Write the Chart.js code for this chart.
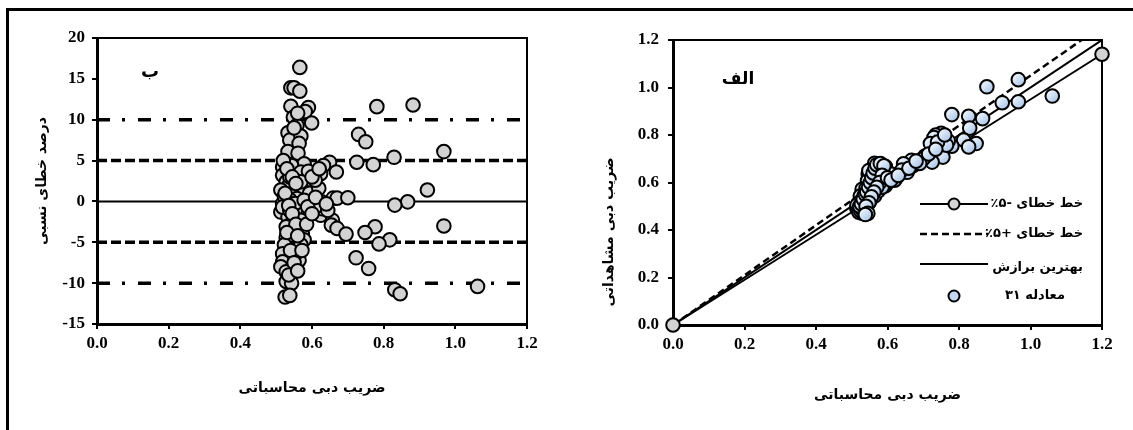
<!DOCTYPE html>
<html><head><meta charset="utf-8">
<script src="https://cdn.jsdelivr.net/npm/chart.js@4.4.0/dist/chart.umd.min.js"></script>
<style>
html,body{margin:0;padding:0;background:#fff;}
#wrap{position:relative;width:1133px;height:430px;overflow:hidden;background:#fff;}
#frame{position:absolute;left:6px;top:8px;width:1140px;height:440px;border-top:3px solid #000;border-left:3px solid #000;}
canvas{position:absolute;top:0;}
#c1{left:0;} #c2{left:566px;}
</style></head><body>
<div id="wrap"><div id="frame"></div>
<canvas id="c1" width="566" height="430"></canvas>
<canvas id="c2" width="567" height="430"></canvas></div>
<script>
// ---------- data: left chart (ب) ----------
const calcLeft = [0.566,0.541,0.550,0.566,0.541,0.590,0.581,0.548,0.558,0.599,
0.533,0.538,0.569,0.564,0.533,0.561,0.578,0.543,0.569,0.590,
0.518,0.518,0.528,0.533,0.558,0.581,0.578,0.593,0.619,0.627,
0.558,0.518,0.513,0.558,0.588,0.624,0.533,0.629,0.649,0.632,
0.668,0.624,0.659,0.670,0.700,0.657,0.654,0.670,0.695,0.538,
0.548,0.528,0.543,0.573,0.578,0.558,0.553,0.523,0.518,0.543,
0.564,0.518,0.548,0.513,0.528,0.528,0.543,0.525,0.538,0.725,
0.730,0.750,0.781,0.882,0.771,0.829,0.968,0.922,0.867,0.831,
0.776,0.748,0.817,0.787,0.723,0.758,0.831,0.846,1.062,0.968,
0.513,0.523,0.518,0.538,0.538,0.548,0.569,0.528,0.569,0.553,
0.538,0.553,0.569,0.609,0.599,0.609,0.644,0.553,0.578,0.588,
0.520,0.530,0.545,0.555,0.525,0.535,0.545,0.555,0.530,0.560,
0.540,0.550,0.535,0.560,0.572,0.600,0.610,0.585,0.600,0.640,
0.620,0.550,0.560];
const errLeft = [16.4,13.9,13.9,13.5,11.65,11.5,11.0,10.3,9.3,9.6,
8.4,7.5,8.0,7.1,6.1,5.9,4.6,4.4,3.6,3.7,
4.2,3.2,2.4,1.8,1.5,2.0,1.2,1.0,1.6,-0.05,
0.35,-0.25,-1.3,-1.15,-1.7,-1.7,-1.9,-0.9,4.8,4.4,
3.6,3.4,0.4,0.4,0.45,-2.3,-2.9,-3.3,-4.0,-2.9,
-3.5,-4.4,-4.7,-3.9,-4.7,-5.5,-5.8,-5.3,-6.4,-7.0,
-7.2,-7.4,-8.0,-8.0,-8.6,-9.8,-10.0,-11.7,-11.5,4.8,
8.2,7.3,11.6,11.8,4.5,5.4,6.1,1.4,-0.05,-0.45,
-3.1,-3.8,-4.7,-5.2,-6.9,-8.2,-10.8,-11.3,-10.4,-3.0,
1.4,0.6,-0.7,0.2,-1.1,-2.3,-2.3,-3.1,-5.3,-6.5,
3.0,2.6,2.4,2.6,-0.25,-0.7,-1.1,-0.25,0.15,-0.65,
5.0,4.0,3.0,2.2,1.0,-0.5,-1.5,-2.8,-3.8,-4.2,
-6.0,-7.5,-9.0,-8.5,-6.0,3.0,0.5,-2.8,-1.5,-0.3,
4.0,9.0,10.8];
const refLineX = [0, 1.2];
const zeroLineY = [0, 0];
const plus5Y = [5, 5];
const minus5Y = [-5, -5];
const plus10Y = [10, 10];
const minus10Y = [-10, -10];

// ---------- data: right chart (الف) ----------
const calcRight = [0.966,0.878,1.061,0.921,0.966,0.866,0.827,0.780,0.830,0.813,
0.848,0.827,0.780,0.755,0.750,0.735,0.730,0.720,0.725,0.705,
0.670,0.667,0.645,0.655,0.625,0.576,0.564,0.594,0.584,0.546,
0.569,0.594,0.544,0.559,0.529,0.554,0.524,0.544,0.564,0.519,
0.534,0.519,0.529,0.514,0.574,0.610,0.770,0.765,0.700,0.640,
0.620,0.600,0.585,0.540,0.550,0.535,0.525,0.515,0.530,0.560,
0.575,0.548,0.690,0.740,0.760,
0.520,0.525,0.530,0.535,0.522,0.527,0.532,0.538,0.542,0.547,
0.552,0.556,0.560,0.565,0.570,0.580,0.590,0.585,0.578,0.570,
0.562,0.555,0.548,0.540,0.545,0.538,0.600,0.610,0.630,0.660,
0.680,0.715,0.735];
const obsRight = [1.033,1.003,0.964,0.936,0.940,0.869,0.879,0.886,0.829,0.779,
0.764,0.750,0.753,0.707,0.807,0.800,0.789,0.764,0.686,0.711,
0.671,0.693,0.679,0.643,0.621,0.671,0.681,0.667,0.650,0.636,
0.614,0.586,0.607,0.579,0.571,0.557,0.543,0.529,0.543,0.514,
0.500,0.486,0.471,0.493,0.564,0.636,0.775,0.757,0.700,0.652,
0.610,0.600,0.580,0.575,0.520,0.545,0.520,0.505,0.490,0.600,
0.620,0.650,0.680,0.770,0.800,
0.475,0.480,0.485,0.490,0.500,0.510,0.530,0.550,0.560,0.580,
0.600,0.620,0.640,0.660,0.675,0.680,0.670,0.630,0.600,0.580,
0.560,0.540,0.515,0.500,0.470,0.465,0.620,0.610,0.630,0.660,
0.690,0.720,0.740];
const fitX = [0, 1.2],   fitY = [0, 1.2];      // بهترین برازش
const plusX = [0, 1.143], plusY = [0, 1.2];    // خط خطای +۵٪
const minusX = [0, 1.2], minusY = [0, 1.14];   // خط خطای -۵٪

const xTickLabels = ['0.0','0.2','0.4','0.6','0.8','1.0','1.2'];
const yTickLabelsRight = ['0.0','0.2','0.4','0.6','0.8','1.0','1.2'];

// ---------- helpers ----------
const serif = "'Liberation Serif','Times New Roman',serif";
const faFam = "'DejaVu Sans',sans-serif";
const tickFont = {family: serif, size: 17, weight: 'bold'};
const pts = (xs, ys) => xs.map((x, i) => ({x: x, y: ys[i]}));

const boxPlugin = {id: 'box', beforeDatasetsDraw(chart) {
  const {ctx, chartArea: a} = chart;
  ctx.save(); ctx.strokeStyle = '#000'; ctx.lineWidth = 2;
  ctx.beginPath(); ctx.moveTo(a.left, a.top); ctx.lineTo(a.right, a.top); ctx.lineTo(a.right, a.bottom); ctx.stroke();
  ctx.restore();
}};

function faText(ctx, txt, x, y, size, align) {
  ctx.save();
  ctx.font = 'bold ' + size + 'px ' + faFam;
  ctx.fillStyle = '#000';
  ctx.direction = 'rtl';
  ctx.textAlign = align || 'center';
  ctx.textBaseline = 'middle';
  ctx.fillText(txt, x, y);
  ctx.restore();
}

function xScale(title, pb, h) {
  return {
    type: 'linear', min: 0, max: 1.2,
    afterFit: s => { s.height = h; },
    afterBuildTicks: s => { s.ticks = xTickLabels.map(t => ({value: parseFloat(t)})); },
    ticks: {font: tickFont, color: '#000', padding: 4, maxRotation: 0,
            callback: (v, i) => xTickLabels[i]},
    grid: {drawOnChartArea: false, drawTicks: true, tickLength: 5, color: '#000', lineWidth: 2},
    border: {display: true, color: '#000', width: 3},
    title: {display: true, text: title, font: {family: faFam, size: 14, weight: 'bold'}, color: '#000',
            padding: {top: 0, bottom: pb}}
  };
}

// ---------- left chart ----------
const leftLine = (ys, dash) => ({
  type: 'scatter', data: pts(refLineX, ys), showLine: true, pointRadius: 0,
  borderColor: '#000', borderWidth: dash ? 3.5 : 2, borderDash: dash || [], order: 2
});

new Chart(document.getElementById('c1'), {
  type: 'scatter',
  data: {datasets: [
    {data: pts(calcLeft, errLeft), pointRadius: 6.8, pointHoverRadius: 6.8,
     backgroundColor: '#d3d3d3', borderColor: '#000', borderWidth: 2, order: 0},
    leftLine(zeroLineY, null),
    leftLine(plus5Y, [10, 4]),
    leftLine(minus5Y, [10, 4]),
    leftLine(plus10Y, [13, 12, 3, 13]),
    leftLine(minus10Y, [13, 12, 3, 13])
  ]},
  options: {
    responsive: false, animation: false, devicePixelRatio: 1,
    layout: {padding: {left: 0, top: 38, right: 39, bottom: 0}},
    plugins: {legend: {display: false}, tooltip: {enabled: false}},
    scales: {
      x: xScale('ضریب دبی محاسباتی', 33, 106),
      y: {
        type: 'linear', min: -15, max: 20,
        afterFit: s => { s.width = 97; },
        ticks: {stepSize: 5, font: tickFont, color: '#000', padding: 7},
        grid: {drawOnChartArea: false, drawTicks: true, tickLength: 5, color: '#000', lineWidth: 2},
        border: {display: true, color: '#000', width: 3},
        title: {display: true, text: 'درصد خطای نسبی', font: {family: faFam, size: 14, weight: 'bold'},
                color: '#000', padding: {top: 34, bottom: 0}}
      }
    }
  },
  plugins: [boxPlugin, {id: 'lblB', afterDraw(chart) { faText(chart.ctx, 'ب', 150, 72, 18); }}]
});

// ---------- right chart ----------
const blueFill = (c) => {
  const ch = c.chart;
  if (c.type !== 'data' || !c.parsed || !ch.scales.x || !ch.scales.y) return '#c5d8ef';
  const px = ch.scales.x.getPixelForValue(c.parsed.x), py = ch.scales.y.getPixelForValue(c.parsed.y);
  if (!Number.isFinite(px) || !Number.isFinite(py)) return '#c5d8ef';
  const g = ch.ctx.createLinearGradient(px - 5, py - 5, px + 5, py + 5);
  g.addColorStop(0, '#f2f7fc'); g.addColorStop(1, '#a9c5e8');
  return g;
};

const legendPlugin = {id: 'leg', afterDraw(chart) {
  const ctx = chart.ctx;
  const x0 = 354, x1 = 422, xm = 388, tx = 517;
  const rows = [204, 234, 264, 296];
  ctx.save();
  ctx.strokeStyle = '#000';
  ctx.lineWidth = 2; ctx.setLineDash([]);
  ctx.beginPath(); ctx.moveTo(x0, rows[0]); ctx.lineTo(x1, rows[0]); ctx.stroke();
  ctx.beginPath(); ctx.arc(xm, rows[0], 5.5, 0, Math.PI * 2); ctx.fillStyle = '#d3d3d3'; ctx.fill(); ctx.stroke();
  ctx.lineWidth = 2.5; ctx.setLineDash([7, 4]);
  ctx.beginPath(); ctx.moveTo(x0, rows[1]); ctx.lineTo(x1, rows[1]); ctx.stroke();
  ctx.lineWidth = 2; ctx.setLineDash([]);
  ctx.beginPath(); ctx.moveTo(x0, rows[2]); ctx.lineTo(x1, rows[2]); ctx.stroke();
  ctx.beginPath(); ctx.arc(xm, rows[3], 5.5, 0, Math.PI * 2); ctx.fillStyle = '#c5d8ef'; ctx.fill(); ctx.stroke();
  ctx.restore();
  faText(ctx, 'خط خطای -۵٪', tx, rows[0], 13, 'right');
  faText(ctx, 'خط خطای +۵٪', tx, rows[1], 13, 'right');
  faText(ctx, 'بهترین برازش', tx, rows[2] + 4, 13, 'right');
  faText(ctx, 'معادله ۳۱', tx - 18, rows[3], 13, 'right');
  faText(ctx, 'الف', 172, 80, 17);
  ctx.save();
  ctx.font = 'bold 14px ' + faFam; ctx.fillStyle = '#000'; ctx.direction = 'rtl';
  ctx.textAlign = 'center'; ctx.textBaseline = 'middle';
  ctx.translate(43, 232); ctx.rotate(-Math.PI / 2);
  ctx.fillText('ضریب دبی مشاهداتی', 0, 0);
  ctx.restore();
}};

new Chart(document.getElementById('c2'), {
  type: 'scatter',
  data: {datasets: [
    {data: pts(calcRight, obsRight), pointRadius: 6.8, pointHoverRadius: 6.8,
     backgroundColor: blueFill, borderColor: '#000', borderWidth: 2, order: 0},
    {data: pts(minusX, minusY), showLine: true, pointRadius: 6.8, backgroundColor: '#d3d3d3',
     borderColor: '#000', borderWidth: 2, clip: false, order: 1},
    {data: pts(plusX, plusY), showLine: true, pointRadius: 0, borderColor: '#000',
     borderWidth: 2.5, borderDash: [7, 4], order: 2},
    {data: pts(fitX, fitY), showLine: true, pointRadius: 0, borderColor: '#000', borderWidth: 2, order: 3}
  ]},
  options: {
    responsive: false, animation: false, devicePixelRatio: 1,
    layout: {padding: {left: 0, top: 40, right: 31, bottom: 0}},
    plugins: {legend: {display: false}, tooltip: {enabled: false}},
    scales: {
      x: xScale('ضریب دبی محاسباتی', 26, 105),
      y: {
        type: 'linear', min: 0, max: 1.2,
        afterFit: s => { s.width = 107; },
        afterBuildTicks: s => { s.ticks = yTickLabelsRight.map(t => ({value: parseFloat(t)})); },
        ticks: {font: tickFont, color: '#000', padding: 9, callback: (v, i) => yTickLabelsRight[i]},
        grid: {drawOnChartArea: false, drawTicks: true, tickLength: 5, color: '#000', lineWidth: 2},
        border: {display: true, color: '#000', width: 3},
        title: {display: false}
      }
    }
  },
  plugins: [boxPlugin, legendPlugin]
});
</script>
</body></html>
